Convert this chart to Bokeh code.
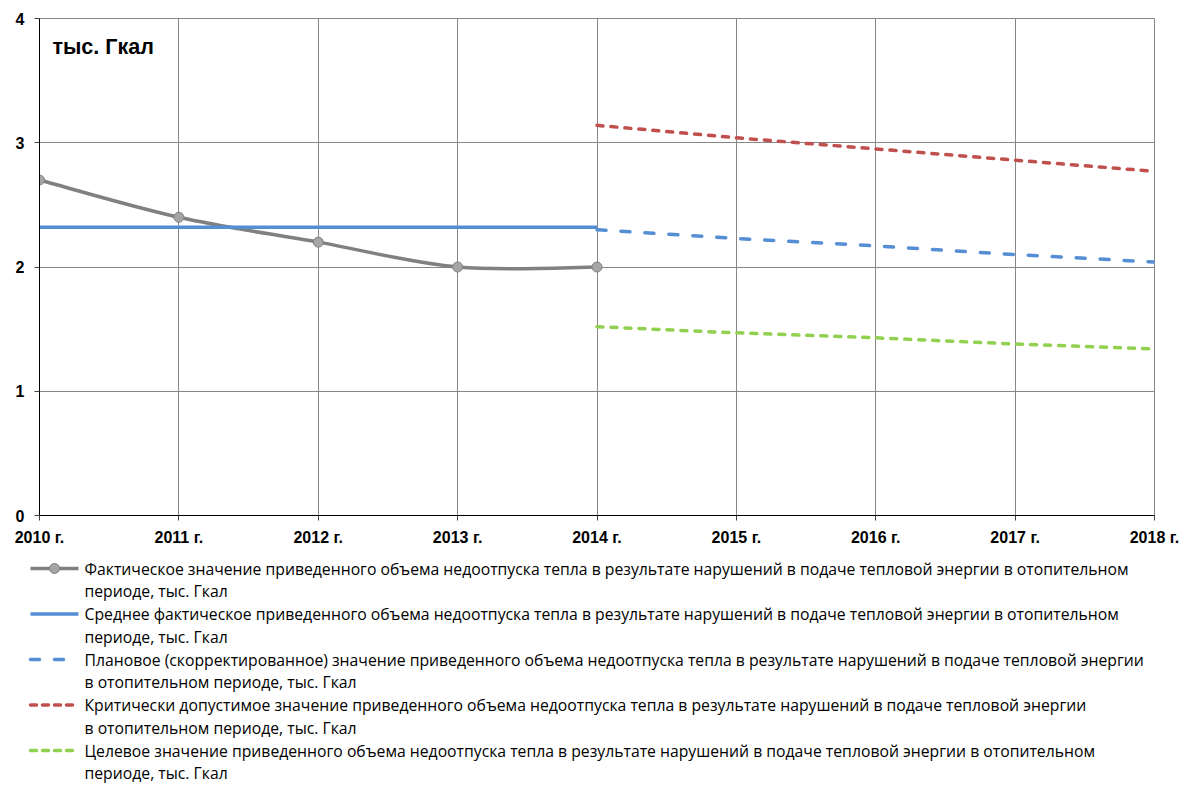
from bokeh.plotting import figure
from bokeh.layouts import column
from bokeh.models import Range1d, FixedTicker, Label
from bokeh.embed import file_html
from bokeh.resources import INLINE
from bokeh.core.properties import value

# ---------------- data ----------------
years = [2010, 2011, 2012, 2013, 2014, 2015, 2016, 2017, 2018]
year_labels = ["2010 г.", "2011 г.", "2012 г.", "2013 г.", "2014 г.",
               "2015 г.", "2016 г.", "2017 г.", "2018 г."]
y_ticks = [0, 1, 2, 3, 4]

fact_years = [2010, 2011, 2012, 2013, 2014]
fact_values = [2.70, 2.40, 2.20, 2.00, 2.00]

avg_years = [2010, 2014]
avg_values = [2.32, 2.32]

plan_years = [2014, 2015, 2016, 2017, 2018]
plan_values = [2.30, 2.23, 2.17, 2.10, 2.04]

crit_years = [2014, 2015, 2016, 2017, 2018]
crit_values = [3.14, 3.04, 2.95, 2.86, 2.77]

target_years = [2014, 2015, 2016, 2017, 2018]
target_values = [1.52, 1.47, 1.43, 1.38, 1.34]

unit_title = "тыс. Гкал"

legend_texts = [
    ("Фактическое значение приведенного объема недоотпуска тепла в результате нарушений в подаче тепловой энергии в отопительном",
     "периоде, тыс. Гкал"),
    ("Среднее фактическое приведенного объема недоотпуска тепла в результате нарушений в подаче тепловой энергии  в отопительном",
     "периоде, тыс. Гкал"),
    ("Плановое (скорректированное) значение приведенного объема недоотпуска тепла в результате нарушений в подаче тепловой энергии",
     "в отопительном периоде, тыс. Гкал"),
    ("Критически допустимое значение приведенного объема недоотпуска тепла в результате нарушений в подаче тепловой энергии",
     "в отопительном периоде, тыс. Гкал"),
    ("Целевое значение приведенного объема недоотпуска тепла в результате нарушений в подаче тепловой энергии в отопительном",
     "периоде, тыс. Гкал"),
]

# ---------------- styles ----------------
GRAY = "#808080"
GRAY_FILL = "#A5A5A5"
BLUE = "#558ED5"
RED = "#C0504D"
GREEN = "#92D050"
GRID = "#868686"
AXIS_FONT = "Liberation Sans"
LEG_FONT = "Open Sans"

W = 1184
H1 = 553
H2 = 232
FRAME_L, FRAME_R = 39, 1154

p = figure(width=W, height=H1, output_backend="svg", toolbar_location=None,
           x_range=Range1d(2010, 2018), y_range=Range1d(0, 4),
           min_border_left=FRAME_L, min_border_right=W - FRAME_R,
           min_border_top=18, min_border_bottom=38)
p.frame_align = False
p.outline_line_color = GRID
p.background_fill_color = "white"
p.border_fill_color = "white"

p.xaxis.ticker = FixedTicker(ticks=years)
p.xaxis.major_label_overrides = {y: l for y, l in zip(years, year_labels)}
p.yaxis.ticker = FixedTicker(ticks=y_ticks)
for ax in (p.xaxis, p.yaxis):
    ax.axis_line_color = "black"
    ax.axis_line_width = 1
    ax.major_tick_line_color = "#404040"
    ax.major_tick_out = 5
    ax.major_tick_in = 0
    ax.minor_tick_line_color = None
    ax.major_label_text_font = AXIS_FONT
    ax.major_label_text_font_style = "bold"
    ax.major_label_text_font_size = "16px"
    ax.major_label_text_color = "black"
    ax.major_label_standoff = 8
p.yaxis.major_label_standoff = 10
p.grid.grid_line_color = GRID
p.grid.grid_line_width = 1
p.grid.grid_line_alpha = 1.0

# smoothed actual-value line (Excel-style smoothing through the points)
n = len(fact_years)
x0s, y0s, x1s, y1s, cx0s, cy0s, cx1s, cy1s = [], [], [], [], [], [], [], []
for i in range(n - 1):
    xm, ym = (fact_years[i - 1], fact_values[i - 1]) if i > 0 else (fact_years[i], fact_values[i])
    xa, ya = fact_years[i], fact_values[i]
    xb, yb = fact_years[i + 1], fact_values[i + 1]
    xp, yp = (fact_years[i + 2], fact_values[i + 2]) if i + 2 < n else (xb, yb)
    x0s.append(xa); y0s.append(ya); x1s.append(xb); y1s.append(yb)
    cx0s.append(xa + (xb - xm) / 6.0); cy0s.append(ya + (yb - ym) / 6.0)
    cx1s.append(xb - (xp - xa) / 6.0); cy1s.append(yb - (yp - ya) / 6.0)
p.bezier(x0=x0s, y0=y0s, x1=x1s, y1=y1s, cx0=cx0s, cy0=cy0s, cx1=cx1s, cy1=cy1s,
         line_color=GRAY, line_width=3.5)
p.scatter(fact_years, fact_values, size=10, marker="circle",
          fill_color=GRAY_FILL, line_color=GRAY, line_width=1)

p.line(avg_years, avg_values, line_color=BLUE, line_width=3.5)
p.line(plan_years, plan_values, line_color=BLUE, line_width=3.5,
       line_dash="9 15", line_cap="round")
p.line(crit_years, crit_values, line_color=RED, line_width=3.5,
       line_dash="6 8", line_cap="round")
p.line(target_years, target_values, line_color=GREEN, line_width=3.5,
       line_dash="6 8", line_cap="round")

p.add_layout(Label(x=2010.093, y=3.77, text=unit_title, text_font=AXIS_FONT,
                   text_font_style="bold", text_font_size="21.5px",
                   text_baseline="middle", text_color="black"))

# ---------------- legend (separate panel below; x/y in pixels) ----------------
lg = figure(width=W, height=H2, output_backend="svg", toolbar_location=None,
            x_range=Range1d(0, W), y_range=Range1d(H2, 0),
            x_axis_location=None, y_axis_location=None,
            min_border=0, min_border_left=0, min_border_right=0,
            min_border_top=0, min_border_bottom=0)
lg.frame_align = False
lg.grid.visible = False
lg.outline_line_color = None
lg.border_fill_color = "white"
lg.background_fill_color = "white"

row0 = 15
row_step = 45.5
line_step = 22.5
sx0, sx1 = 30, 78
tx = 84

styles = [
    dict(line_color=GRAY, line_width=3.5),
    dict(line_color=BLUE, line_width=3.5),
    dict(line_color=BLUE, line_width=3.5, line_dash="9 15", line_cap="round"),
    dict(line_color=RED, line_width=3.5, line_dash="6 6", line_cap="round"),
    dict(line_color=GREEN, line_width=3.5, line_dash="6 6", line_cap="round"),
]
for k, ((t1, t2), st) in enumerate(zip(legend_texts, styles)):
    yy = row0 + k * row_step
    lg.line([sx0, sx1], [yy, yy], **st)
    if k == 0:
        lg.scatter([(sx0 + sx1) / 2], [yy], size=10, marker="circle",
                   fill_color=GRAY_FILL, line_color=GRAY)
    lg.text([tx, tx], [yy, yy + line_step], text=[t1, t2],
            text_font=value(LEG_FONT), text_font_size="15.75px",
            text_baseline="middle", text_align="left", text_color="black")

layout = column(p, lg, spacing=0)
open("out.html", "w").write(file_html(layout, INLINE))
